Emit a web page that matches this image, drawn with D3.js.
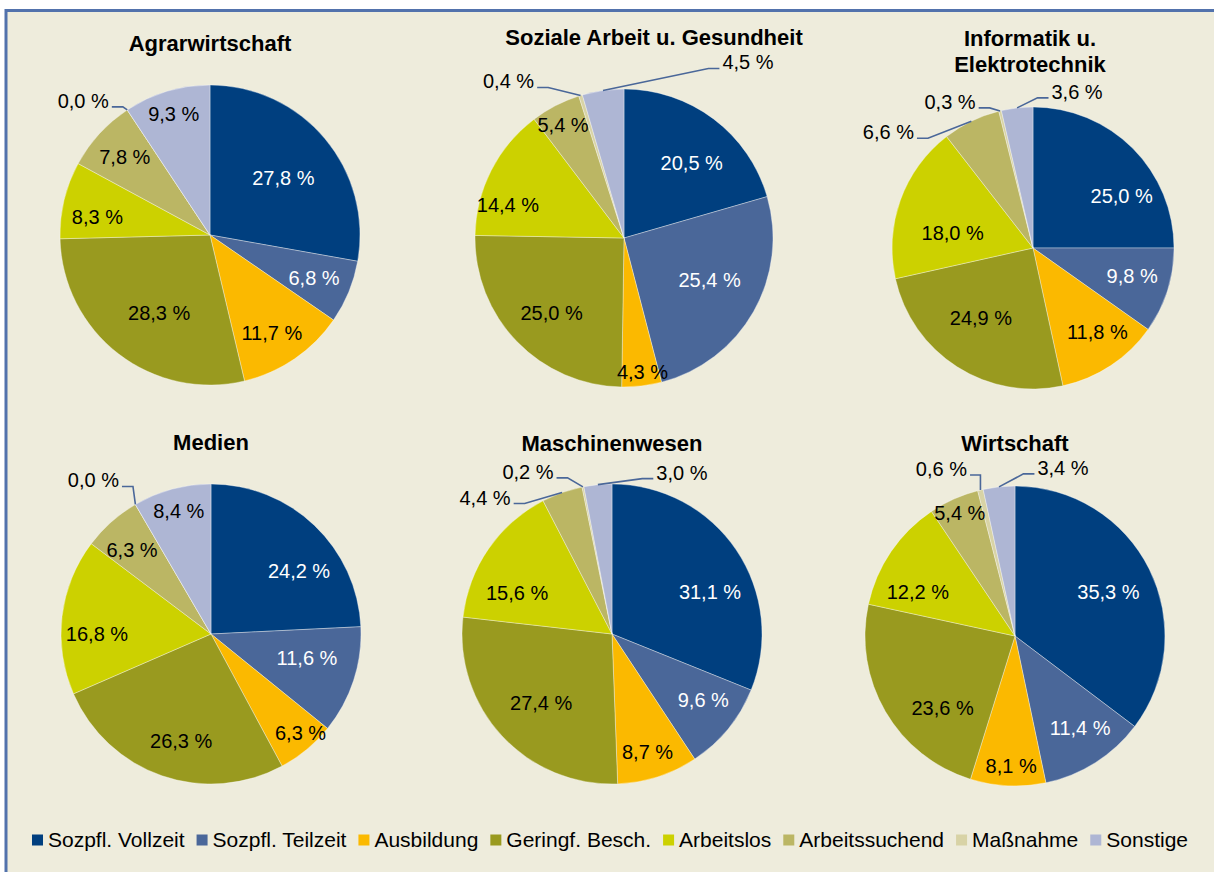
<!DOCTYPE html>
<html>
<head>
<meta charset="utf-8">
<script src="https://cdn.jsdelivr.net/npm/d3@7"></script>
<style>
  body { margin: 0; background: #fff; }
  svg { display: block; }
</style>
</head>
<body>
<svg id="chart" width="1214" height="872"></svg>
<script>
// categories + colours (same order as the slices, clockwise from 12 o'clock)
const categories = ['Sozpfl. Vollzeit', 'Sozpfl. Teilzeit', 'Ausbildung', 'Geringf. Besch.',
  'Arbeitslos', 'Arbeitssuchend', 'Maßnahme', 'Sonstige'];
const colors = ['#003F7F', '#4A6799', '#FBB900', '#999A1F', '#CCD100', '#BBB664', '#D8D3A6', '#AEB6D4'];

const titles = ['Agrarwirtschaft', 'Soziale Arbeit u. Gesundheit', 'Informatik u.|Elektrotechnik',
  'Medien', 'Maschinenwesen', 'Wirtschaft'];

// shares in percent
const agrarwirtschaft = [27.8, 6.8, 11.7, 28.3, 8.3, 7.8, 0.0, 9.3];
const sozialeArbeit = [20.5, 25.4, 4.3, 25.0, 14.4, 5.4, 0.4, 4.5];
const informatik = [25.0, 9.8, 11.8, 24.9, 18.0, 6.6, 0.3, 3.6];
const medien = [24.2, 11.6, 6.3, 26.3, 16.8, 6.3, 0.0, 8.4];
const maschinenwesen = [31.1, 9.6, 8.7, 27.4, 15.6, 4.4, 0.2, 3.0];
const wirtschaft = [35.3, 11.4, 8.1, 23.6, 12.2, 5.4, 0.6, 3.4];

// layout of the six pies; label hints mimic Excel's "best fit"
// inside: [radius fraction, angle shift in deg], outside: label offset from the slice's rim point
const panels = [
  { values: agrarwirtschaft, title: titles[0], cx: 210, cy: 235, r: 150, tx: 210, ty: 51,
    inside: [[.62, 2], [.75, 0], [.77, 2], [.62, -4.5], [.76, -4.5], [.77, 0], null, [.84, 0]],
    outside: { 6: [-44, -9] } },
  { values: sozialeArbeit, title: titles[1], cx: 624, cy: 238, r: 149, tx: 654, ty: 45,
    inside: [[.68, 5], [.64, -3.5], [.91, -1], [.70, -2], [.81, -11], [.86, -1], null, null],
    outside: { 6: [-72, -14], 7: [145, -28] } },
  { values: informatik, title: titles[2], cx: 1033, cy: 248, r: 141, tx: 1030, ty: 46,
    inside: [[.73, 14.5], [.73, -2], [.75, -4], [.62, 4], [.58, -9], null, null, null],
    outside: { 5: [-83, 11], 6: [-50, -9], 7: [60, -16] } },
  { values: medien, title: titles[3], cx: 211, cy: 634, r: 150, tx: 211, ty: 450,
    inside: [[.72, 11], [.66, -4], [.89, -2.5], [.74, -3.5], [.76, -7], [.77, -1.5], null, [.85, .5]],
    outside: { 6: [-42, -24] } },
  { values: maschinenwesen, title: titles[4], cx: 612, cy: 634, r: 150, tx: 612, ty: 451,
    inside: [[.71, 11], [.75, -3.5], [.82, 1], [.66, -1.5], [.69, -11], null, null, null],
    outside: { 5: [-77, 5], 6: [-55, -15], 7: [84, -12] } },
  { values: wirtschaft, title: titles[5], cx: 1015, cy: 636, r: 150, tx: 1015, ty: 451,
    inside: [[.69, 1], [.75, -3], [.87, -1], [.68, -14.5], [.71, -10], [.90, 0], null, null],
    outside: { 6: [-39, -21], 7: [64, -19] } },
];

const font = '"Liberation Sans", Arial, sans-serif';
const labelSize = 20;
const fmt = (v) => v.toFixed(1).replace('.', ',') + ' %';
const whiteText = new Set([0, 1]);

const svg = d3.select('#chart').style('font-family', font);

// frame
svg.append('rect')
  .attr('x', 6).attr('y', 10.5)
  .attr('width', 1300).attr('height', 900)
  .attr('fill', '#EEECDC')
  .attr('stroke', '#5272AC')
  .attr('stroke-width', 3);

const pie = d3.pie().sort(null).value((d) => d);

panels.forEach((p) => {
  const g = svg.append('g');
  const arcs = pie(p.values);
  const arc = d3.arc().innerRadius(0).outerRadius(p.r);
  const rim = d3.arc().innerRadius(p.r).outerRadius(p.r);

  g.append('g')
    .attr('transform', `translate(${p.cx},${p.cy})`)
    .selectAll('path')
    .data(arcs)
    .join('path')
    .attr('d', arc)
    .attr('fill', (d, i) => colors[i])
    .attr('stroke', 'rgba(255,255,255,0.45)')
    .attr('stroke-width', 0.8);

  // title (may be two lines)
  const lines = p.title.split('|');
  g.append('text')
    .attr('text-anchor', 'middle')
    .attr('font-size', 22)
    .attr('font-weight', 'bold')
    .attr('fill', '#000')
    .selectAll('tspan')
    .data(lines)
    .join('tspan')
    .attr('x', p.tx)
    .attr('y', (d, i) => p.ty + i * 26)
    .text((d) => d);

  const labels = g.append('g').attr('font-size', labelSize);

  arcs.forEach((d, i) => {
    const hint = p.inside[i];
    if (hint) {
      const mid = (d.startAngle + d.endAngle) / 2 + (hint[1] * Math.PI) / 180;
      const [x, y] = d3.pointRadial(mid, hint[0] * p.r);
      labels.append('text')
        .attr('x', p.cx + x)
        .attr('y', p.cy + y + labelSize * 0.35)
        .attr('text-anchor', 'middle')
        .attr('fill', whiteText.has(i) ? '#fff' : '#000')
        .text(fmt(d.data));
      return;
    }
    const off = p.outside[i];
    if (!off) return;
    const [ex, ey] = rim.centroid(d);
    const edge = [p.cx + ex, p.cy + ey];
    const lx = edge[0] + off[0];
    const ly = edge[1] + off[1];
    const t = labels.append('text')
      .attr('x', lx)
      .attr('y', ly + labelSize * 0.35)
      .attr('text-anchor', 'middle')
      .attr('fill', '#000')
      .text(fmt(d.data));
    const w = t.node().getComputedTextLength();
    const left = off[0] < 0;
    const ax = left ? lx + w / 2 + 3 : lx - w / 2 - 3;
    const ay = ly + 6;
    const bx = left ? Math.min(ax + 11, edge[0]) : Math.max(ax - 11, edge[0]);
    g.append('path')
      .attr('d', d3.line()([[ax, ay], [bx, ay], edge]))
      .attr('fill', 'none')
      .attr('stroke', '#4A6799')
      .attr('stroke-width', 1.6);
  });
});

// legend, centred under the pies
const legend = svg.append('g').attr('font-size', 21);
const box = 11, gapText = 5, gapItem = 12, baseY = 847;
const items = categories.map((c, i) => {
  const t = legend.append('text').attr('y', baseY).attr('fill', '#000').text(c);
  return { t, i, w: t.node().getComputedTextLength() };
});
const total = d3.sum(items, (d) => box + gapText + d.w) + gapItem * (items.length - 1);
let x = 610 - total / 2;
items.forEach((d) => {
  legend.append('rect')
    .attr('x', x).attr('y', baseY - 12.5)
    .attr('width', box).attr('height', box)
    .attr('fill', colors[d.i]);
  d.t.attr('x', x + box + gapText);
  x += box + gapText + d.w + gapItem;
});
</script>
</body>
</html>
